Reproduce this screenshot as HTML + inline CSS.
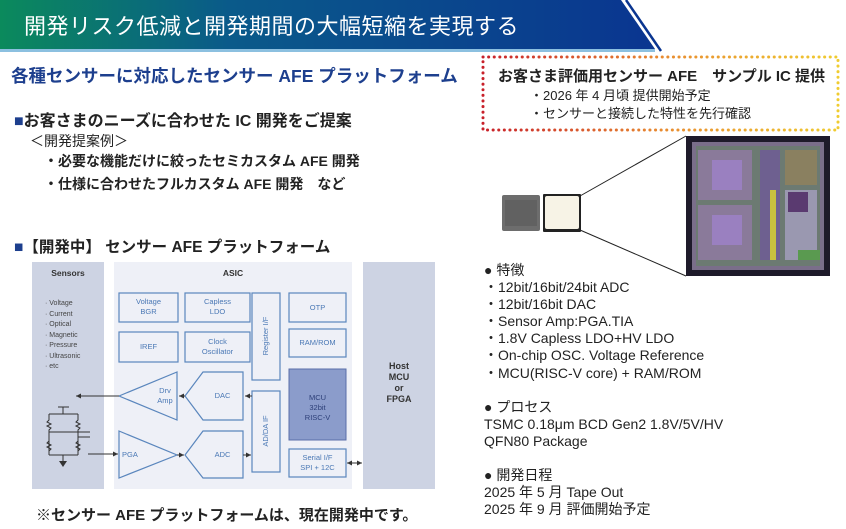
<!DOCTYPE html>
<html><head><meta charset="utf-8"><style>
html,body{margin:0;padding:0;background:#fff}
body{width:846px;height:529px;position:relative;overflow:hidden;font-family:"Liberation Sans","Noto Sans CJK JP",sans-serif;color:#222}
.t{position:absolute;white-space:nowrap}
</style></head><body>
<svg width="846" height="529" style="position:absolute;left:0;top:0">
<defs>
<linearGradient id="hg" x1="0" x2="1"><stop offset="0" stop-color="#0b8a5c"/><stop offset="0.35" stop-color="#0a5a8a"/><stop offset="1" stop-color="#0a3590"/></linearGradient>
<linearGradient id="dg" x1="0" x2="1"><stop offset="0" stop-color="#c8202a"/><stop offset="0.5" stop-color="#e88a30"/><stop offset="1" stop-color="#f0cc30"/></linearGradient>
<marker id="ar" markerWidth="6" markerHeight="6" refX="5" refY="3" orient="auto"><path d="M0,0.5 L5,3 L0,5.5z" fill="#333"/></marker>
</defs>
<polygon points="0,0 621,0 655,49 0,49" fill="url(#hg)"/>
<line x1="626" y1="0" x2="661" y2="51" stroke="#0a3590" stroke-width="2.5"/>
<rect x="0" y="49" width="655" height="3" fill="#8cc0e0"/>
<rect x="483" y="57" width="355" height="73" fill="none" stroke="url(#dg)" stroke-width="3" stroke-dasharray="0.1 5.5" stroke-linecap="round"/>
<!-- chips -->
<rect x="502" y="195" width="38" height="36" fill="#6d6d6d" rx="2"/>
<rect x="505" y="200" width="32" height="26" fill="#5a5a5a" opacity=".6"/>
<rect x="543" y="194" width="38" height="38" fill="#222" rx="1"/>
<rect x="545" y="196" width="34" height="33" fill="#f7f3e6" rx="2"/>
<line x1="580" y1="196" x2="686" y2="136" stroke="#222"/>
<line x1="580" y1="230" x2="686" y2="276" stroke="#222"/>
<rect x="686" y="136" width="144" height="140" fill="#1e1a2a"/>
<rect x="692" y="142" width="132" height="128" fill="#7a6e8a"/>
<rect x="696" y="146" width="124" height="120" fill="#6c7a72"/>
<rect x="698" y="150" width="54" height="50" fill="#8a7a9a"/>
<rect x="698" y="205" width="54" height="55" fill="#8a7a9a"/>
<rect x="712" y="160" width="30" height="30" fill="#9a80c0"/>
<rect x="712" y="215" width="30" height="30" fill="#9a80c0"/>
<rect x="760" y="150" width="20" height="110" fill="#6e6090"/>
<rect x="770" y="190" width="6" height="70" fill="#c8c040"/>
<rect x="785" y="150" width="32" height="35" fill="#8a8060"/>
<rect x="785" y="190" width="32" height="70" fill="#9a98b0"/>
<rect x="788" y="192" width="20" height="20" fill="#5a3a70"/>
<rect x="798" y="250" width="22" height="10" fill="#5a9a50"/>
<!-- diagram panels -->
<rect x="32" y="262" width="72" height="227" fill="#cdd3e3"/>
<rect x="114" y="262" width="238" height="227" fill="#eef0f7"/>
<rect x="363" y="262" width="72" height="227" fill="#cdd3e3"/>
<g fill="none" stroke="#5a86bd" stroke-width="1.2">
<rect x="119" y="293" width="59" height="29"/>
<rect x="185" y="293" width="65" height="29"/>
<rect x="119" y="332" width="59" height="30"/>
<rect x="185" y="332" width="65" height="30"/>
<rect x="252" y="293" width="28" height="87"/>
<rect x="252" y="391" width="28" height="81"/>
<rect x="289" y="293" width="57" height="29"/>
<rect x="289" y="329" width="57" height="28"/>
<rect x="289" y="449" width="57" height="28"/>
<polygon points="119,396 177,372 177,420"/>
<polygon points="119,431 177,455 119,478"/>
<polygon points="203,372 243,372 243,420 203,420 185,396"/>
<polygon points="203,431 243,431 243,478 203,478 185,455"/>
</g>
<rect x="289" y="369" width="57" height="71" fill="#8b9ccb" stroke="#5a6ea8"/>
<g stroke="#333" stroke-width="1" fill="none">
<line x1="252" y1="396" x2="245" y2="396" marker-end="url(#ar)"/>
<line x1="185" y1="396" x2="179" y2="396" marker-end="url(#ar)"/>
<line x1="119" y1="396" x2="76" y2="396" marker-end="url(#ar)"/>
<line x1="88" y1="454" x2="118" y2="454" marker-end="url(#ar)"/>
<line x1="177" y1="455" x2="184" y2="455" marker-end="url(#ar)"/>
<line x1="243" y1="455" x2="251" y2="455" marker-end="url(#ar)"/>
<line x1="355" y1="463" x2="347" y2="463" marker-end="url(#ar)"/>
<line x1="352" y1="463" x2="362" y2="463" marker-end="url(#ar)"/>
<!-- bridge -->
<line x1="58" y1="407" x2="69" y2="407"/>
<line x1="63" y1="407" x2="63" y2="414"/>
<polyline points="49,414 78,414"/>
<polyline points="49,414 49,420 47,422 51,424 47,426 51,428 49,430 49,455"/>
<polyline points="78,414 78,420 76,422 80,424 76,426 80,428 78,430 78,455"/>
<polyline points="49,437 49,441 47,443 51,445 47,447 51,449 49,451"/>
<polyline points="78,437 78,441 76,443 80,445 76,447 80,449 78,451"/>
<line x1="49" y1="455" x2="78" y2="455"/>
<line x1="49" y1="432" x2="90" y2="432"/>
<line x1="78" y1="437" x2="90" y2="437"/>
<line x1="63" y1="455" x2="63" y2="461"/>
</g>
<polygon points="59,461 67,461 63,467" fill="#333"/>
</svg>
<div class="t" style="left:24px;top:9px;font-size:22px;color:#fff;letter-spacing:.5px">開発リスク低減と開発期間の大幅短縮を実現する</div>
<div class="t" style="left:11px;top:63px;font-size:17.5px;font-weight:bold;color:#1d3f8e">各種センサーに対応したセンサー AFE プラットフォーム</div>
<div class="t" style="left:14px;top:107px;font-size:16px;font-weight:bold"><span style="color:#1d3f8e">■</span>お客さまのニーズに合わせた IC 開発をご提案</div>
<div class="t" style="left:30px;top:131px;font-size:14px">＜開発提案例＞</div>
<div class="t" style="left:44px;top:151px;font-size:14px;font-weight:bold">・必要な機能だけに絞ったセミカスタム AFE 開発</div>
<div class="t" style="left:44px;top:174px;font-size:14px;font-weight:bold">・仕様に合わせたフルカスタム AFE 開発　など</div>
<div class="t" style="left:14px;top:235px;font-size:15.5px;font-weight:bold"><span style="color:#1d3f8e">■</span>【開発中】 センサー AFE プラットフォーム</div>
<div class="t" style="left:36px;top:504px;font-size:15px;font-weight:bold">※センサー AFE プラットフォームは、現在開発中です。</div>
<div style="position:absolute;left:32px;top:268px;width:72px;text-align:center;font-size:8.5px;font-weight:bold;color:#333">Sensors</div>
<div style="position:absolute;left:114px;top:268px;width:238px;text-align:center;font-size:8.5px;font-weight:bold;color:#333">ASIC</div>
<div style="position:absolute;left:363px;top:361px;width:72px;text-align:center;font-size:9px;font-weight:bold;color:#333;line-height:11px">Host<br>MCU<br>or<br>FPGA</div>
<div class="t" style="left:45px;top:299px;font-size:7px;line-height:10.5px;color:#444">· Voltage<br>· Current<br>· Optical<br>· Magnetic<br>· Pressure<br>· Ultrasonic<br>· etc</div>
<div style="position:absolute;font-size:7.5px;color:#4a78b5;text-align:center;line-height:10px">
<div style="position:absolute;left:119px;top:297px;width:59px">Voltage<br>BGR</div>
<div style="position:absolute;left:185px;top:297px;width:65px">Capless<br>LDO</div>
<div style="position:absolute;left:119px;top:342px;width:59px">IREF</div>
<div style="position:absolute;left:185px;top:337px;width:65px">Clock<br>Oscillator</div>
<div style="position:absolute;left:289px;top:303px;width:57px">OTP</div>
<div style="position:absolute;left:289px;top:338px;width:57px">RAM/ROM</div>
<div style="position:absolute;left:289px;top:393px;width:57px;color:#2d3f78">MCU<br>32bit<br>RISC-V</div>
<div style="position:absolute;left:289px;top:453px;width:57px">Serial I/F<br>SPI + 12C</div>
<div style="position:absolute;left:150px;top:386px;width:30px">Drv<br>Amp</div>
<div style="position:absolute;left:200px;top:391px;width:45px">DAC</div>
<div style="position:absolute;left:200px;top:450px;width:45px">ADC</div>
<div style="position:absolute;left:122px;top:450px;text-align:left">PGA</div>
<div style="position:absolute;left:226px;top:331px;width:80px;transform:rotate(-90deg)">Register I/F</div>
<div style="position:absolute;left:226px;top:426px;width:80px;transform:rotate(-90deg)">AD/DA IF</div>
</div>
<div class="t" style="left:498px;top:65px;font-size:15px;font-weight:bold">お客さま評価用センサー AFE　サンプル IC 提供</div>
<div class="t" style="left:530px;top:87px;font-size:13px;line-height:18px">・2026 年 4 月頃 提供開始予定<br>・センサーと接続した特性を先行確認</div>
<div class="t" style="left:484px;top:262px;font-size:14px;line-height:17.1px">● 特徴<br>・12bit/16bit/24bit ADC<br>・12bit/16bit DAC<br>・Sensor Amp:PGA.TIA<br>・1.8V Capless LDO+HV LDO<br>・On-chip OSC. Voltage Reference<br>・MCU(RISC-V core) + RAM/ROM<br><br>● プロセス<br>TSMC 0.18μm BCD Gen2 1.8V/5V/HV<br>QFN80 Package<br><br>● 開発日程<br>2025 年 5 月 Tape Out<br>2025 年 9 月 評価開始予定</div>
</body></html>
